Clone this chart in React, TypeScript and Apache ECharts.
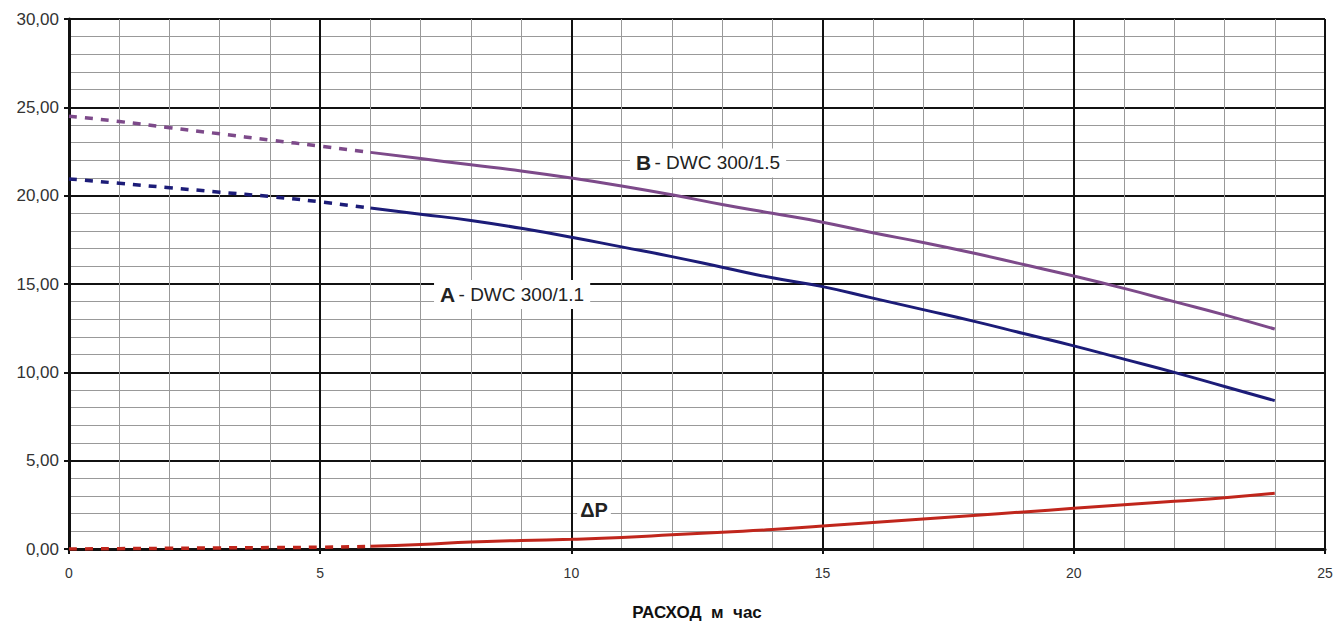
import React, { useEffect, useRef } from "react";
import * as echarts from "echarts";

const xDashed = [0, 1, 2, 3, 4, 5, 6];
const xSolid = [6, 7, 8, 9, 10, 11, 12, 13, 14, 15, 16, 17, 18, 19, 20, 21, 22, 23, 24];

const bDashed = [24.5, 24.2, 23.85, 23.5, 23.15, 22.8, 22.45];
const bSolid = [22.45, 22.1, 21.75, 21.4, 21.0, 20.55, 20.05, 19.5, 19.0, 18.5, 17.9, 17.35, 16.75, 16.1, 15.45, 14.75, 14.0, 13.25, 12.45];

const aDashed = [20.95, 20.7, 20.45, 20.2, 19.95, 19.65, 19.3];
const aSolid = [19.3, 18.95, 18.6, 18.15, 17.65, 17.1, 16.55, 15.95, 15.35, 14.85, 14.2, 13.55, 12.9, 12.2, 11.5, 10.75, 10.0, 9.2, 8.4];

const pDashed = [0.0, 0.02, 0.04, 0.06, 0.08, 0.1, 0.15];
const pSolid = [0.15, 0.25, 0.4, 0.48, 0.55, 0.65, 0.8, 0.95, 1.1, 1.3, 1.5, 1.7, 1.9, 2.1, 2.3, 2.5, 2.7, 2.9, 3.15];

const yTicks = [0, 5, 10, 15, 20, 25, 30];
const xTicks = [0, 5, 10, 15, 20, 25];

const labelB = { x: 12.72, y: 21.85, text: "DWC 300/1.5", letter: "B" };
const labelA = { x: 8.82, y: 14.4, text: "DWC 300/1.1", letter: "A" };
const labelP = { x: 10.45, y: 2.2, text: "ΔP" };
const xTitle = "РАСХОД  м  час";

const COLOR_B = "#7d4a8a";
const COLOR_A = "#1c1c78";
const COLOR_P = "#c0261c";

const FONT = "Liberation Sans, Arial, sans-serif";

function pairs(xs: number[], ys: number[]) {
  return xs.map((x, i) => [x, ys[i]]);
}

export default function App() {
  const ref = useRef<HTMLDivElement>(null);
  useEffect(() => {
    if (!ref.current) return;
    const chart = echarts.init(ref.current, undefined, { renderer: "svg" });
    const lineBase = (name: string, data: number[][], color: string, dashed: boolean) => ({
      type: "line",
      name,
      data,
      showSymbol: false,
      symbol: "none",
      smooth: true,
      lineStyle: { color, width: dashed ? 3.5 : 3, type: dashed ? [8, 8] : "solid" },
      z: 5,
    });
    const rich = {
      b: { fontFamily: FONT, fontWeight: "bold", fontSize: 21, color: "#222" },
      n: { fontFamily: FONT, fontSize: 19, color: "#222" },
    };
    const mk = (pt: { x: number; y: number }, formatter: string) => ({
      symbol: "circle",
      symbolSize: 0,
      silent: true,
      label: {
        show: true,
        position: "inside",
        formatter,
        rich,
        backgroundColor: "#fff",
        padding: [4, 6, 4, 6],
      },
      data: [{ coord: [pt.x, pt.y] }],
    });
    chart.setOption({
      animation: false,
      backgroundColor: "#fff",
      grid: { left: 69, right: 15, top: 19, bottom: 77, containLabel: false, outerBoundsMode: "none" },
      xAxis: {
        type: "value",
        min: 0,
        max: 25,
        interval: 5,
        axisLine: { show: true, onZero: false, lineStyle: { color: "#111", width: 3 } },
        axisTick: { show: true, length: 5, lineStyle: { color: "#111", width: 2 } },
        axisLabel: {
          color: "#333",
          fontSize: 14,
          margin: 17,
          fontFamily: FONT,
          formatter: (v: number) => (xTicks.includes(v) ? String(v) : ""),
        },
        splitLine: { show: true, lineStyle: { color: "#111", width: 2 } },
        minorTick: { show: true, splitNumber: 5, length: 0 },
        minorSplitLine: { show: true, lineStyle: { color: "#999", width: 1 } },
        name: xTitle,
        nameLocation: "middle",
        nameGap: 55,
        nameTextStyle: { fontFamily: FONT, fontWeight: "bold", fontSize: 17, color: "#111" },
      },
      yAxis: {
        type: "value",
        min: 0,
        max: 30,
        interval: 5,
        axisLine: { show: true, lineStyle: { color: "#111", width: 3 } },
        axisTick: { show: true, length: 5, lineStyle: { color: "#111", width: 2 } },
        axisLabel: {
          color: "#333",
          fontSize: 17,
          margin: 10,
          fontFamily: FONT,
          formatter: (v: number) => (yTicks.includes(v) ? v.toFixed(2).replace(".", ",") : ""),
        },
        splitLine: { show: true, lineStyle: { color: "#111", width: 2 } },
        minorTick: { show: true, splitNumber: 5, length: 0 },
        minorSplitLine: { show: true, lineStyle: { color: "#999", width: 1 } },
      },
      series: [
        lineBase("B dashed", pairs(xDashed, bDashed), COLOR_B, true),
        { ...lineBase("B", pairs(xSolid, bSolid), COLOR_B, false), markPoint: mk(labelB, `{b|${labelB.letter}} {n|- ${labelB.text}}`) },
        lineBase("A dashed", pairs(xDashed, aDashed), COLOR_A, true),
        { ...lineBase("A", pairs(xSolid, aSolid), COLOR_A, false), markPoint: mk(labelA, `{b|${labelA.letter}} {n|- ${labelA.text}}`) },
        lineBase("P dashed", pairs(xDashed, pDashed), COLOR_P, true),
        {
          ...lineBase("P", pairs(xSolid, pSolid), COLOR_P, false),
          markPoint: {
            symbol: "circle",
            symbolSize: 0,
            silent: true,
            label: {
              show: true,
              position: "inside",
              formatter: labelP.text,
              fontFamily: FONT,
              fontWeight: "bold",
              fontSize: 20,
              color: "#222",
              backgroundColor: "#fff",
              padding: [2, 3, 2, 3],
            },
            data: [{ coord: [labelP.x, labelP.y] }],
          },
        },
      ],
    });
    return () => chart.dispose();
  }, []);
  return <div ref={ref} style={{ position: "absolute", left: 0, top: 0, width: 1340, height: 626 }} />;
}
